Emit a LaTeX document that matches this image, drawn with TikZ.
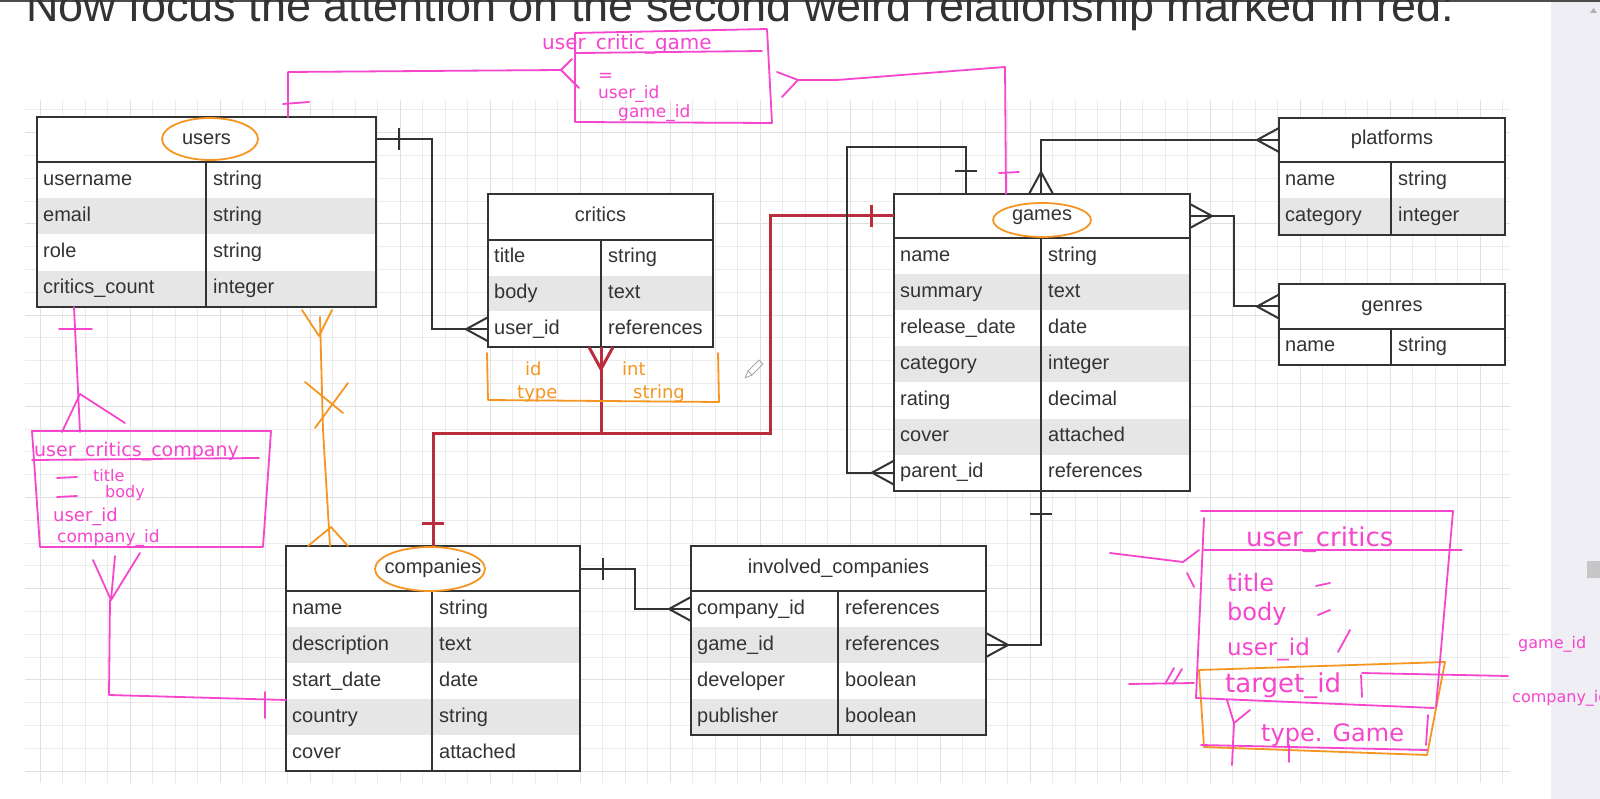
\documentclass[tikz,border=0pt]{standalone}
\usepackage{fontspec}
\setsansfont{Liberation Sans}
\newfontfamily\handfont{DejaVu Sans}
\usetikzlibrary{calc,positioning}

\definecolor{inkgray}{RGB}{51,51,51}
\definecolor{rowgray}{RGB}{230,230,230}
\definecolor{gridthin}{RGB}{236,236,236}
\definecolor{gridthick}{RGB}{224,224,224}
\definecolor{relred}{RGB}{185,45,60}
\definecolor{penpink}{RGB}{245,70,205}
\definecolor{penorange}{RGB}{245,150,35}
\definecolor{sidebar}{RGB}{238,238,244}

\newcommand{\tblfont}{\sffamily\fontsize{20}{24}\selectfont}
\newcommand{\handsize}[1]{\handfont\fontsize{#1}{#1}\selectfont}

\tikzset{
  tblhead/.style={anchor=north west, fill=white, inner sep=0pt, outer sep=0pt,
    text height=15pt, text depth=5pt, font=\tblfont, text=inkgray},
  tblrow/.style={anchor=north west, inner sep=0pt, outer sep=0pt},
  tblkey/.style={anchor=west, inner sep=0pt, text height=15pt, text depth=5pt,
    font=\tblfont, text=inkgray},
  tblframe/.style={line width=2.2pt, draw=inkgray},
  conn/.style={line width=2pt, draw=inkgray},
  relconn/.style={line width=3pt, draw=relred},
  pinkpen/.style={line width=1.8pt, draw=penpink, line cap=round, line join=round},
  orangepen/.style={line width=1.8pt, draw=penorange, line cap=round, line join=round},
  pinknote/.style={anchor=base west, inner sep=0pt, text=penpink},
  orangenote/.style={anchor=base west, inner sep=0pt, text=penorange, font=\handsize{18}},
  gridminor/.style={draw=gridthin, line width=0.8pt},
  gridmajor/.style={draw=gridthick, line width=0.8pt}
}

% name, left, top, width, key column, header height, row height, title, rows
\newcommand{\ertable}[9]{%
  \node[tblhead, minimum width=#4, minimum height=#6] (#1) at (#2,#3) {#8};
  \foreach \key/\typ [count=\i] in {#9} {
    \ifodd\i \def\rowfill{white}\else \def\rowfill{rowgray}\fi
    \node[tblrow, fill=\rowfill, minimum width=#4, minimum height=#7] (#1-\i) at (#2,{#3+#6+(\i-1)*#7}) {};
    \node[tblkey] (#1-\i-k) at ($(#1-\i.west)+(6,0)$) {\key};
    \node[tblkey] (#1-\i-v) at ($(#1-\i.west)+(#5+7,0)$) {\typ};
    \xdef\nrows{\i}
  }
  \draw[tblframe] (#2,#3) rectangle ++(#4,{#6+\nrows*#7});
  \draw[tblframe] (#2,#3+#6) -- ++(#4,0);
  \draw[tblframe] (#2+#5,#3+#6) -- ++(0,{\nrows*#7});
}
\newcommand{\crowfoot}[3][conn]{%
  \draw[#1] ($(#2)+(#3+90:12pt)$) -- ($(#2)+(#3:22pt)$) -- ($(#2)+(#3-90:12pt)$);}
\newcommand{\barmark}[3][conn]{%
  \draw[#1] ($(#2)+(#3:23pt)+(#3+90:11pt)$) -- ($(#2)+(#3:23pt)+(#3-90:11pt)$);}

\begin{document}
\begin{tikzpicture}[x=1pt, y=-1pt]
  \useasboundingbox (0,0) rectangle (1600,799);
  \clip (0,0) rectangle (1600,799);
  \fill[white] (0,0) rectangle (1600,799);

  % grid
  \foreach \gx in {0,...,65} \draw[gridminor] (40+22.5*\gx,100) -- ++(0,683);
  \foreach \gy in {0,...,29} \draw[gridminor] (25,771-22.8*\gy) -- (1510,771-22.8*\gy);
  \foreach \gx in {0,4,...,64} \draw[gridmajor] (40+22.5*\gx,100) -- ++(0,683);
  \foreach \gy in {0,4,...,28} \draw[gridmajor] (25,771-22.8*\gy) -- (1510,771-22.8*\gy);

  % scroll bar
  \fill[sidebar] (1551,0) rectangle (1600,799);
  \fill[gray!45] (1587,561) rectangle (1600,578);
  \fill[gray!60] (1590,13) -- (1597,13) -- (1593.5,8) -- cycle;
  \fill[black!70] (0,0) rectangle (1600,2);

  \node[anchor=base west, inner sep=0pt, font=\sffamily\fontsize{45}{50}\selectfont, text=inkgray]
    (title) at (26,22) {Now focus the attention on the second weird relationship marked in red:};

  % tables
  \ertable{users}{37}{117}{339}{169}{45}{36.25}{users}%
    {username/string, email/string, role/string, critics\_count/integer}
  \ertable{critics}{488}{194}{225}{113}{46}{35.7}{critics}%
    {title/string, body/text, user\_id/references}
  \ertable{games}{894}{194}{296}{147}{44}{36.1}{games}%
    {name/string, summary/text, release\_date/date, category/integer, rating/decimal, cover/attached, parent\_id/references}
  \ertable{platforms}{1279}{118}{226}{112}{44}{36.5}{platforms}%
    {name/string, category/integer}
  \ertable{genres}{1279}{284}{226}{112}{45}{36}{genres}%
    {name/string}
  \ertable{companies}{286}{546}{294}{146}{45}{36}{companies}%
    {name/string, description/text, start\_date/date, country/string, cover/attached}
  \ertable{involved}{691}{546}{295}{147}{45}{36}{involved\_companies}%
    {company\_id/references, game\_id/references, developer/boolean, publisher/boolean}

  % red relationship
  \coordinate (critbot) at ($(critics-3.south west)+(113,0)$);
  \draw[relconn] (games.west) -- ++(-124,0) |- ($(companies.north)+(0,-113)$) -- (companies.north);
  \draw[relconn] (critbot) -- ++(0,86);
  \barmark[relconn]{games.west}{180}
  \barmark[relconn]{companies.north}{90}
  \crowfoot[relconn]{critbot}{270}

  % connectors
  \draw[conn] (users.east) -- ++(56,0) |- (critics-3.west);
  \barmark{users.east}{0}
  \crowfoot{critics-3.west}{180}

  \coordinate (gself) at ($(games.north west)+(72,0)$);
  \draw[conn] (gself) -- ++(0,-47) -| ($(games.north west)+(-47,0)$) |- (games-7.west);
  \barmark{gself}{90}
  \crowfoot{games-7.west}{180}

  \coordinate (gplat) at ($(games.north west)+(147,0)$);
  \draw[conn] (gplat) |- (platforms.west);
  \crowfoot{gplat}{90}
  \crowfoot{platforms.west}{180}

  \draw[conn] (games.east) -- ++(44,0) |- (genres.west);
  \crowfoot{games.east}{0}
  \crowfoot{genres.west}{180}

  \draw[conn] (companies.east) -- ++(55,0) |- (involved-1.west);
  \barmark{companies.east}{0}
  \crowfoot{involved-1.west}{180}

  \coordinate (gbot) at ($(games-7.south west)+(147,0)$);
  \draw[conn] (involved-2.east) -| (gbot);
  \crowfoot{involved-2.east}{0}
  \barmark{gbot}{270}

  % orange notes
  \draw[orangepen] (210,139) ellipse [x radius=48pt, y radius=21pt];
  \draw[orangepen] (1042,220) ellipse [x radius=49pt, y radius=17pt];
  \draw[orangepen] (430,569) ellipse [x radius=55pt, y radius=22pt];
  \draw[orangepen] (320,317) -- (323,430) -- (330,546);
  \draw[orangepen] (302,310) -- (319,336) -- (332,310);
  \draw[orangepen] (305,382) -- (343,413);
  \draw[orangepen] (348,383) -- (315,428);
  \draw[orangepen] (308,546) -- (331,527) -- (348,546);
  \draw[orangepen] (487,353) -- (488,400) -- (719,402) -- (718,353);
  \node[orangenote] (idnote) at (525,375) {id};
  \node[orangenote] (typenote) at (517,398) {type};
  \node[orangenote] (intnote) at (622,375) {int};
  \node[orangenote] (strnote) at (633,398) {string};
  \draw[orangepen] (1199,670) -- (1445,662) -- (1427,755) -- (1204,747) -- cycle;

  % pink sketch: user_critic_game
  \draw[pinkpen] (575,33) -- (767,29) -- (772,123) -- (575,122) -- cycle;
  \draw[pinkpen] (575,53) -- (762,51);
  \node[pinknote, font=\handsize{20}] (ucg) at (542,50) {user\_critic\_game};
  \node[pinknote, font=\handsize{18}] (ucg-eq) at (598,82) {=};
  \node[pinknote, font=\handsize{17}] (ucg-1) at (598,99) {user\_id};
  \node[pinknote, font=\handsize{17}] (ucg-2) at (618,118) {game\_id};
  \draw[pinkpen] (288,117) -- (288,72) -- (561,70);
  \draw[pinkpen] (283,104) -- (309,102);
  \draw[pinkpen] (572,59) -- (561,70) -- (579,88);
  \draw[pinkpen] (777,72) -- (798,80) -- (782,97);
  \draw[pinkpen] (798,80) -- (837,80) -- (1005,67) -- (1006,194);
  \draw[pinkpen] (999,173) -- (1019,172);

  % pink sketch: user_critics_company
  \draw[pinkpen] (32,431) -- (271,431) -- (263,547) -- (40,547) -- cycle;
  \draw[pinkpen] (32,460) -- (259,458);
  \node[pinknote, font=\handsize{19}] (ucc) at (34,456) {user\_critics\_company};
  \draw[pinkpen] (57,478) -- (77,477);
  \draw[pinkpen] (57,497) -- (77,496);
  \node[pinknote, font=\handsize{16}] (ucc-1) at (93,481) {title};
  \node[pinknote, font=\handsize{16}] (ucc-2) at (105,497) {body};
  \node[pinknote, font=\handsize{18}] (ucc-3) at (53,521) {user\_id};
  \node[pinknote, font=\handsize{17}] (ucc-4) at (57,542) {company\_id};
  \draw[pinkpen] (74,307) -- (80,432);
  \draw[pinkpen] (59,329) -- (92,329);
  \draw[pinkpen] (62,432) -- (80,394) -- (125,423);
  \draw[pinkpen] (93,560) -- (111,600) -- (140,553);
  \draw[pinkpen] (115,556) -- (111,600);
  \draw[pinkpen] (110,600) -- (109,695) -- (286,700);
  \draw[pinkpen] (265,692) -- (265,718);

  % pink sketch: user_critics
  \draw[pinkpen] (1201,511) -- (1453,511) -- (1436,707);
  \draw[pinkpen] (1204,518) -- (1196,698);
  \draw[pinkpen] (1204,550) -- (1462,550);
  \draw[pinkpen] (1196,698) -- (1434,708);
  \draw[pinkpen] (1201,745) -- (1427,750);
  \node[pinknote, font=\handsize{26}] (uc) at (1246,546) {user\_critics};
  \node[pinknote, font=\handsize{24}] (uc-1) at (1227,591) {title};
  \node[pinknote, font=\handsize{24}] (uc-2) at (1227,620) {body};
  \node[pinknote, font=\handsize{23}] (uc-3) at (1227,655) {user\_id};
  \node[pinknote, font=\handsize{26}] (uc-4) at (1225,692) {target\_id};
  \node[pinknote, font=\handsize{24}] (uc-5) at (1261,741) {type. Game};
  \draw[pinkpen] (1316,586) -- (1330,583);
  \draw[pinkpen] (1318,615) -- (1330,610);
  \draw[pinkpen] (1338,652) -- (1350,630);
  \draw[pinkpen] (1361,675) -- (1362,697);
  \draw[pinkpen] (1428,715) -- (1426,745);
  \draw[pinkpen] (1110,553) -- (1183,562) -- (1199,550);
  \draw[pinkpen] (1187,573) -- (1194,587);
  \draw[pinkpen] (1129,684) -- (1194,683);
  \draw[pinkpen] (1165,684) -- (1174,668);
  \draw[pinkpen] (1173,684) -- (1182,669);
  \draw[pinkpen] (1362,673) -- (1508,676);
  \draw[pinkpen] (1227,700) -- (1234,723) -- (1250,710);
  \draw[pinkpen] (1234,723) -- (1232,765);
  \draw[pinkpen] (1289,745) -- (1289,762);
  \node[pinknote, font=\handsize{16}] (gid) at (1518,648) {game\_id};
  \node[pinknote, font=\handsize{16}] (cid) at (1512,702) {company\_id};

  % pencil cursor
  \draw[gray!70, line width=0.8pt, line join=round] (745,378) -- (748,371) -- (759,360) -- (763,364) -- (752,375) -- cycle;
  \draw[gray!70, line width=0.8pt] (748,371) -- (752,375);
\end{tikzpicture}
\end{document}
